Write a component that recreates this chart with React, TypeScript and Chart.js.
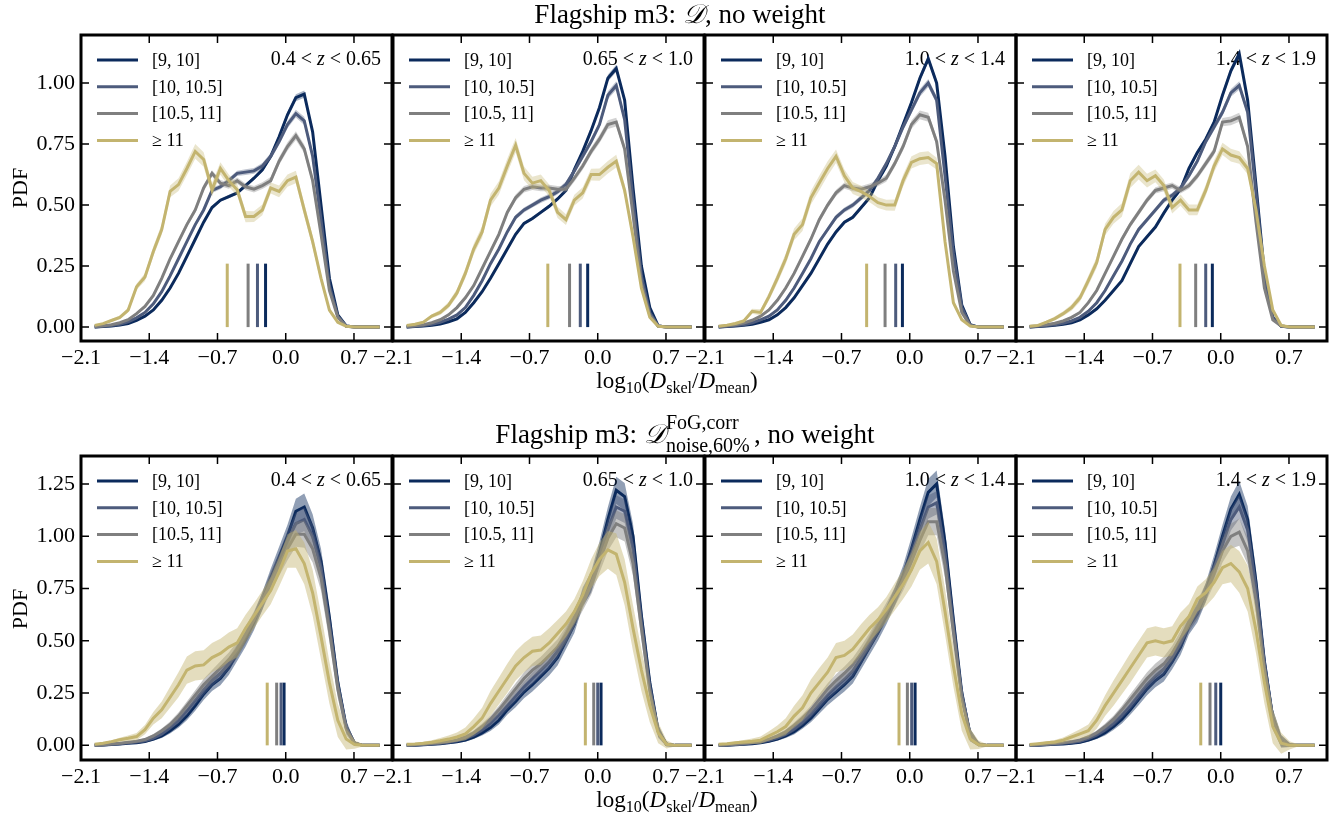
import React, { useEffect, useRef } from 'react';
import { Chart, registerables } from 'chart.js';

Chart.register(...registerables);

const SERIF = '"Liberation Serif", "Times New Roman", serif';

// bin centres of log10(D_skel / D_mean)
const xs = [-1.96, -1.874, -1.788, -1.702, -1.616, -1.53, -1.444, -1.358, -1.272, -1.186, -1.1, -1.014, -0.928, -0.842, -0.756, -0.67, -0.584, -0.498, -0.412, -0.326, -0.24, -0.154, -0.068, 0.018, 0.104, 0.19, 0.276, 0.362, 0.448, 0.534, 0.62, 0.706, 0.792, 0.878, 0.964];

const seriesLabels = ['[9, 10]', '[10, 10.5]', '[10.5, 11]', '\u2265 11'];
const seriesColors = ['#0b2a5c', '#4d5b7c', '#7f7f7f', '#c3b46f'];
const zLow = ['0.4', '0.65', '1.0', '1.4'];
const zHigh = ['0.65', '1.0', '1.4', '1.9'];
const xTicks = [-2.1, -1.4, -0.7, 0.0, 0.7];
const yTicksTop = [0, 0.25, 0.5, 0.75, 1.0];
const yTicksBottom = [0, 0.25, 0.5, 0.75, 1.0, 1.25];

// ---------- top row: D, no weight ----------
const t1Navy = [0,0.002,0.004,0.008,0.015,0.028,0.045,0.07,0.11,0.16,0.22,0.29,0.36,0.43,0.49,0.52,0.535,0.55,0.58,0.61,0.645,0.70,0.78,0.87,0.94,0.955,0.80,0.50,0.20,0.05,0.005,0,0,0,0];
const t1Slate = [0,0.003,0.006,0.012,0.022,0.038,0.06,0.095,0.145,0.21,0.28,0.35,0.42,0.48,0.56,0.575,0.60,0.63,0.635,0.64,0.66,0.70,0.76,0.83,0.875,0.845,0.70,0.44,0.17,0.045,0.004,0,0,0,0];
const t1Gray = [0.002,0.005,0.01,0.018,0.03,0.055,0.085,0.13,0.20,0.28,0.35,0.42,0.48,0.57,0.63,0.59,0.58,0.60,0.575,0.565,0.58,0.60,0.68,0.74,0.785,0.73,0.60,0.38,0.15,0.04,0.003,0,0,0,0];
const t1Gold = [0.007,0.014,0.027,0.04,0.07,0.165,0.205,0.31,0.40,0.556,0.584,0.65,0.72,0.687,0.563,0.65,0.60,0.563,0.453,0.453,0.48,0.57,0.556,0.60,0.615,0.48,0.35,0.20,0.07,0.02,0.003,0,0,0,0];

const t2Navy = [0,0.002,0.004,0.007,0.013,0.022,0.034,0.06,0.10,0.145,0.20,0.26,0.32,0.38,0.425,0.445,0.47,0.495,0.525,0.56,0.645,0.72,0.805,0.90,1.02,1.06,0.93,0.57,0.25,0.08,0.005,0,0,0,0];
const t2Slate = [0,0.003,0.006,0.012,0.02,0.033,0.05,0.08,0.13,0.19,0.26,0.32,0.39,0.45,0.48,0.50,0.52,0.535,0.555,0.585,0.64,0.70,0.76,0.83,0.95,0.99,0.85,0.52,0.21,0.06,0.004,0,0,0,0];
const t2Gray = [0.002,0.005,0.01,0.018,0.03,0.05,0.08,0.12,0.17,0.24,0.31,0.38,0.47,0.53,0.565,0.575,0.57,0.57,0.565,0.565,0.61,0.66,0.72,0.77,0.83,0.84,0.73,0.46,0.18,0.05,0.004,0,0,0,0];
const t2Gold = [0.007,0.012,0.02,0.045,0.06,0.09,0.14,0.22,0.32,0.39,0.52,0.57,0.66,0.745,0.63,0.59,0.60,0.56,0.47,0.44,0.52,0.55,0.625,0.625,0.655,0.68,0.56,0.37,0.16,0.04,0.003,0,0,0,0];

const t3Navy = [0,0.002,0.004,0.007,0.012,0.02,0.03,0.05,0.08,0.12,0.17,0.22,0.28,0.34,0.39,0.43,0.45,0.49,0.53,0.60,0.66,0.74,0.83,0.92,1.02,1.10,1.0,0.70,0.33,0.09,0.01,0,0,0,0];
const t3Slate = [0,0.003,0.006,0.01,0.018,0.03,0.045,0.07,0.11,0.16,0.22,0.28,0.35,0.40,0.45,0.48,0.50,0.53,0.56,0.61,0.67,0.74,0.82,0.89,0.96,1.0,0.93,0.62,0.30,0.08,0.008,0,0,0,0];
const t3Gray = [0.002,0.005,0.01,0.017,0.028,0.045,0.07,0.11,0.16,0.22,0.29,0.36,0.44,0.50,0.55,0.58,0.57,0.565,0.575,0.59,0.61,0.67,0.74,0.83,0.87,0.86,0.76,0.52,0.23,0.06,0.006,0,0,0,0];
const t3Gold = [0.003,0.008,0.015,0.025,0.065,0.06,0.125,0.20,0.28,0.38,0.42,0.53,0.59,0.65,0.70,0.62,0.57,0.555,0.535,0.51,0.50,0.50,0.60,0.675,0.69,0.695,0.67,0.35,0.10,0.03,0.004,0,0,0,0];

const t4Navy = [0,0.002,0.004,0.007,0.012,0.018,0.03,0.05,0.075,0.11,0.15,0.19,0.26,0.33,0.37,0.41,0.467,0.52,0.565,0.65,0.715,0.77,0.84,0.95,1.05,1.12,0.93,0.58,0.22,0.04,0.003,0,0,0,0];
const t4Slate = [0,0.003,0.006,0.01,0.016,0.025,0.04,0.065,0.10,0.15,0.21,0.27,0.34,0.40,0.44,0.48,0.52,0.54,0.57,0.62,0.68,0.76,0.82,0.88,0.96,0.99,0.88,0.55,0.21,0.04,0.004,0,0,0,0];
const t4Gray = [0.002,0.005,0.01,0.016,0.025,0.04,0.06,0.1,0.15,0.22,0.29,0.36,0.42,0.47,0.52,0.56,0.57,0.58,0.56,0.58,0.62,0.67,0.72,0.84,0.845,0.86,0.74,0.43,0.16,0.03,0.004,0,0,0,0];
const t4Gold = [0.003,0.007,0.02,0.035,0.055,0.08,0.12,0.19,0.265,0.40,0.45,0.48,0.60,0.635,0.60,0.62,0.58,0.49,0.52,0.48,0.48,0.56,0.66,0.73,0.705,0.695,0.65,0.48,0.25,0.07,0.007,0,0,0,0];

// ---------- bottom row: D^{FoG,corr}_{noise,60%}, no weight ----------
const b1Navy = [0,0.002,0.004,0.007,0.01,0.013,0.018,0.03,0.045,0.07,0.10,0.14,0.19,0.245,0.29,0.32,0.37,0.44,0.51,0.59,0.69,0.80,0.90,1.0,1.12,1.14,1.04,0.88,0.61,0.30,0.09,0.01,0,0,0];
const b1Slate = [0,0.002,0.005,0.008,0.012,0.016,0.022,0.035,0.055,0.085,0.12,0.165,0.215,0.265,0.31,0.345,0.39,0.45,0.52,0.60,0.69,0.79,0.88,0.98,1.06,1.08,1.0,0.85,0.58,0.29,0.085,0.01,0,0,0];
const b1Gray = [0.001,0.003,0.006,0.01,0.015,0.02,0.028,0.045,0.07,0.10,0.14,0.19,0.24,0.29,0.33,0.37,0.41,0.46,0.53,0.60,0.69,0.78,0.86,0.94,1.01,1.01,0.94,0.80,0.55,0.27,0.08,0.01,0,0,0];
const b1Gold = [0.005,0.01,0.018,0.027,0.034,0.042,0.075,0.13,0.17,0.23,0.29,0.36,0.38,0.385,0.42,0.44,0.47,0.49,0.56,0.62,0.68,0.74,0.83,0.93,0.94,0.87,0.73,0.52,0.30,0.12,0.03,0.004,0,0,0];

const b2Navy = [0,0.001,0.003,0.005,0.008,0.012,0.017,0.025,0.04,0.06,0.085,0.12,0.17,0.21,0.255,0.29,0.33,0.37,0.42,0.50,0.58,0.71,0.78,0.92,1.08,1.22,1.19,1.0,0.62,0.30,0.07,0.005,0,0,0];
const b2Slate = [0,0.002,0.004,0.007,0.01,0.015,0.022,0.032,0.05,0.075,0.105,0.145,0.19,0.235,0.28,0.32,0.36,0.40,0.45,0.52,0.60,0.70,0.78,0.90,1.03,1.14,1.12,0.94,0.59,0.28,0.07,0.005,0,0,0];
const b2Gray = [0.001,0.003,0.005,0.009,0.013,0.018,0.026,0.04,0.06,0.09,0.125,0.17,0.22,0.27,0.32,0.36,0.39,0.43,0.47,0.53,0.61,0.69,0.77,0.88,0.99,1.06,1.04,0.87,0.56,0.26,0.065,0.005,0,0,0];
const b2Gold = [0.005,0.007,0.01,0.015,0.022,0.03,0.04,0.055,0.09,0.13,0.20,0.26,0.32,0.38,0.42,0.45,0.456,0.49,0.535,0.58,0.64,0.72,0.82,0.89,0.935,0.915,0.78,0.56,0.36,0.19,0.06,0.005,0,0,0];

const b3Navy = [0,0.001,0.003,0.005,0.008,0.013,0.02,0.03,0.045,0.065,0.095,0.13,0.175,0.22,0.255,0.29,0.33,0.40,0.47,0.54,0.62,0.71,0.81,0.94,1.08,1.21,1.25,0.97,0.60,0.25,0.05,0.005,0,0,0];
const b3Slate = [0,0.002,0.004,0.007,0.011,0.016,0.024,0.036,0.054,0.078,0.11,0.15,0.195,0.24,0.28,0.315,0.355,0.42,0.49,0.56,0.63,0.71,0.80,0.91,1.03,1.14,1.16,0.92,0.57,0.24,0.05,0.005,0,0,0];
const b3Gray = [0.001,0.003,0.005,0.009,0.014,0.02,0.03,0.045,0.065,0.095,0.13,0.17,0.22,0.27,0.31,0.345,0.385,0.44,0.50,0.57,0.64,0.71,0.79,0.88,0.98,1.07,1.07,0.86,0.54,0.23,0.05,0.005,0,0,0];
const b3Gold = [0.005,0.008,0.012,0.016,0.02,0.025,0.045,0.065,0.09,0.14,0.18,0.25,0.30,0.35,0.42,0.43,0.46,0.51,0.56,0.60,0.65,0.71,0.77,0.84,0.93,0.97,0.88,0.64,0.38,0.15,0.03,0.003,0,0,0];

const b4Navy = [0,0.001,0.003,0.005,0.007,0.01,0.015,0.025,0.04,0.06,0.09,0.125,0.17,0.22,0.27,0.31,0.34,0.40,0.47,0.57,0.63,0.73,0.86,1.0,1.13,1.2,1.08,0.78,0.40,0.13,0.02,0.002,0,0,0];
const b4Slate = [0,0.002,0.004,0.007,0.01,0.014,0.02,0.032,0.05,0.075,0.105,0.145,0.19,0.24,0.29,0.33,0.365,0.42,0.49,0.58,0.64,0.73,0.84,0.96,1.08,1.14,1.03,0.75,0.39,0.13,0.02,0.002,0,0,0];
const b4Gray = [0.001,0.003,0.005,0.009,0.013,0.018,0.026,0.04,0.06,0.09,0.125,0.17,0.22,0.27,0.32,0.36,0.39,0.44,0.51,0.59,0.65,0.73,0.82,0.93,1.0,1.02,0.93,0.69,0.37,0.12,0.02,0.002,0,0,0];
const b4Gold = [0.004,0.008,0.012,0.016,0.025,0.04,0.055,0.07,0.12,0.19,0.25,0.31,0.37,0.43,0.49,0.50,0.49,0.50,0.57,0.616,0.70,0.73,0.78,0.85,0.87,0.83,0.75,0.55,0.30,0.09,0.01,0,0,0,0];

// band half-widths (bootstrap scatter), per row and mass bin
const topErrNavy = [0,0,0.001,0.001,0.002,0.002,0.003,0.003,0.004,0.004,0.005,0.005,0.005,0.006,0.006,0.006,0.007,0.007,0.008,0.008,0.009,0.01,0.011,0.012,0.014,0.015,0.014,0.012,0.009,0.005,0.002,0,0,0,0];
const topErrSlate = [0,0.001,0.001,0.002,0.003,0.003,0.004,0.005,0.006,0.007,0.008,0.008,0.009,0.01,0.01,0.01,0.011,0.011,0.012,0.012,0.012,0.013,0.014,0.015,0.016,0.017,0.016,0.013,0.01,0.006,0.002,0,0,0,0];
const topErrGray = [0.001,0.001,0.002,0.003,0.004,0.005,0.006,0.007,0.008,0.009,0.01,0.011,0.012,0.013,0.013,0.013,0.013,0.013,0.013,0.013,0.014,0.015,0.016,0.017,0.018,0.018,0.017,0.014,0.01,0.006,0.002,0,0,0,0];
const topErrGold = [0.003,0.004,0.006,0.008,0.01,0.013,0.016,0.02,0.022,0.024,0.026,0.028,0.03,0.03,0.028,0.026,0.025,0.024,0.023,0.022,0.022,0.023,0.024,0.025,0.026,0.026,0.024,0.018,0.01,0.005,0.002,0,0,0,0];
const botErrNavy = [0,0.001,0.002,0.003,0.004,0.005,0.006,0.008,0.01,0.013,0.016,0.02,0.024,0.028,0.03,0.032,0.034,0.036,0.038,0.04,0.042,0.045,0.05,0.055,0.06,0.065,0.065,0.06,0.055,0.045,0.03,0.01,0.003,0,0];
const botErrSlate = [0,0.001,0.002,0.003,0.004,0.005,0.006,0.008,0.01,0.012,0.015,0.018,0.021,0.024,0.026,0.028,0.03,0.032,0.034,0.036,0.038,0.04,0.044,0.048,0.052,0.056,0.056,0.052,0.048,0.04,0.026,0.009,0.003,0,0];
const botErrGray = [0.001,0.001,0.002,0.003,0.004,0.005,0.007,0.009,0.011,0.014,0.017,0.02,0.024,0.027,0.03,0.032,0.034,0.036,0.038,0.04,0.042,0.045,0.05,0.055,0.06,0.065,0.065,0.06,0.055,0.045,0.03,0.01,0.003,0,0];
const botErrGold = [0.003,0.005,0.007,0.01,0.013,0.017,0.022,0.03,0.04,0.05,0.06,0.065,0.07,0.07,0.07,0.07,0.07,0.07,0.065,0.06,0.06,0.065,0.07,0.08,0.09,0.1,0.11,0.11,0.1,0.08,0.05,0.02,0.005,0,0];

// medians (navy, slate, gray, gold) per panel
const topMedians = [[-0.207, -0.29, -0.386, -0.60], [-0.103, -0.179, -0.289, -0.512], [-0.075, -0.144, -0.253, -0.442], [-0.086, -0.154, -0.257, -0.418]];
const botMedians = [[-0.017, -0.048, -0.093, -0.19], [0.034, 0.0, -0.041, -0.127], [0.055, 0.02, -0.024, -0.11], [0.0, -0.051, -0.11, -0.205]];
const medianTop = [0.26, 0.30];

const topPanels = [[t1Navy, t1Slate, t1Gray, t1Gold], [t2Navy, t2Slate, t2Gray, t2Gold], [t3Navy, t3Slate, t3Gray, t3Gold], [t4Navy, t4Slate, t4Gray, t4Gold]];
const botPanels = [[b1Navy, b1Slate, b1Gray, b1Gold], [b2Navy, b2Slate, b2Gray, b2Gold], [b3Navy, b3Slate, b3Gray, b3Gold], [b4Navy, b4Slate, b4Gray, b4Gold]];
const topErrs = [topErrNavy, topErrSlate, topErrGray, topErrGold];
const botErrs = [botErrNavy, botErrSlate, botErrGray, botErrGold];

// layout
const PANEL_LEFT = [81, 393, 705, 1016];
const PANEL_W = 311;
const ROW_TOP = [35, 456];
const ROW_H = [306, 304];
const Y_RANGE = [[-0.057, 1.197], [-0.07, 1.384]];
const X_MIN = -2.1;
const X_MAX = 1.09;
const PAD_L = 70, PAD_R = 30, PAD_T = 20, PAD_B = 45;

function rgba(hex: string, a: number) {
  const n = parseInt(hex.slice(1), 16);
  return `rgba(${(n >> 16) & 255},${(n >> 8) & 255},${n & 255},${a})`;
}

function Panel({ row, col }: { row: number; col: number }) {
  const ref = useRef<HTMLCanvasElement>(null);
  const W = PANEL_W + PAD_L + PAD_R;
  const H = ROW_H[row] + PAD_T + PAD_B;
  useEffect(() => {
    if (!ref.current) return;
    const values = row === 0 ? topPanels[col] : botPanels[col];
    const errs = row === 0 ? topErrs : botErrs;
    const medians = row === 0 ? topMedians[col] : botMedians[col];
    const bandAlpha = row === 0 ? 0.35 : 0.45;
    const datasets: any[] = [];
    values.forEach((vals, s) => {
      const c = seriesColors[s];
      const base = 100 - s * 4;
      datasets.push({
        data: xs.map((x, i) => ({ x, y: vals[i] - errs[s][i] })),
        borderColor: 'rgba(0,0,0,0)', borderWidth: 1, pointRadius: 0, fill: false, order: base,
      });
      datasets.push({
        data: xs.map((x, i) => ({ x, y: vals[i] + errs[s][i] })),
        borderColor: 'rgba(0,0,0,0)', borderWidth: 1, pointRadius: 0, fill: '-1',
        backgroundColor: rgba(c, bandAlpha), order: base - 1,
      });
      datasets.push({
        label: seriesLabels[s],
        data: xs.map((x, i) => ({ x, y: vals[i] })),
        borderColor: c, borderWidth: 3, pointRadius: 0, fill: false, order: base - 2,
      });
    });
    medians.forEach((m, s) => {
      datasets.push({
        data: [{ x: m, y: 0 }, { x: m, y: medianTop[row] }],
        borderColor: seriesColors[s], borderWidth: 3, pointRadius: 0, fill: false, order: 10 - s,
      });
    });

    const annot = {
      id: 'annot',
      beforeDatasetsDraw(chart: any) {
        const { ctx, chartArea } = chart;
        ctx.save();
        ctx.fillStyle = '#000';
        ctx.textBaseline = 'middle';
        const fN = `20px ${SERIF}`;
        const fI = `italic 20px ${SERIF}`;
        const p1 = `${zLow[col]} < `, p2 = 'z', p3 = ` < ${zHigh[col]}`;
        ctx.font = fN; const w1 = ctx.measureText(p1).width; const w3 = ctx.measureText(p3).width;
        ctx.font = fI; const w2 = ctx.measureText(p2).width;
        let x = chartArea.right - 11 - (w1 + w2 + w3);
        const y = chartArea.top + 25;
        ctx.font = fN; ctx.fillText(p1, x, y); x += w1;
        ctx.font = fI; ctx.fillText(p2, x, y); x += w2;
        ctx.font = fN; ctx.fillText(p3, x, y);
        ctx.restore();
      },
    };
    const frame = {
      id: 'frame',
      afterDatasetsDraw(chart: any) {
        const { ctx, chartArea } = chart;
        const { left, right, top, bottom } = chartArea;
        const xs_ = chart.scales.x, ys_ = chart.scales.y;
        ctx.save();
        ctx.strokeStyle = '#000';
        ctx.lineWidth = 1.5;
        ctx.beginPath();
        xs_.ticks.forEach((t: any) => {
          const px = xs_.getPixelForValue(t.value);
          ctx.moveTo(px, bottom); ctx.lineTo(px, bottom - 8);
          ctx.moveTo(px, top); ctx.lineTo(px, top + 8);
        });
        ys_.ticks.forEach((t: any) => {
          const py = ys_.getPixelForValue(t.value);
          ctx.moveTo(left, py); ctx.lineTo(left + 8, py);
          ctx.moveTo(right, py); ctx.lineTo(right - 8, py);
        });
        ctx.stroke();
        ctx.lineWidth = 3;
        ctx.strokeRect(left, top, right - left, bottom - top);
        // legend
        ctx.font = `18px ${SERIF}`;
        ctx.textBaseline = 'middle';
        ctx.fillStyle = '#000';
        seriesLabels.forEach((lab, s) => {
          const y = top + 25 + s * 26.8;
          ctx.strokeStyle = seriesColors[s];
          ctx.lineWidth = 3;
          ctx.beginPath();
          ctx.moveTo(left + 16, y); ctx.lineTo(left + 57, y);
          ctx.stroke();
          ctx.fillText(lab, left + 71, y + 1);
        });
        ctx.restore();
      },
    };

    const yt = row === 0 ? yTicksTop : yTicksBottom;
    const chart = new Chart(ref.current, {
      type: 'line',
      data: { datasets },
      plugins: [annot, frame],
      options: {
        animation: false,
        responsive: false,
        events: [],
        layout: { padding: { left: 0, right: PAD_R, top: PAD_T, bottom: 0 } },
        plugins: { legend: { display: false }, tooltip: { enabled: false }, title: { display: false } },
        elements: { line: { tension: 0 } },
        scales: {
          x: {
            type: 'linear', min: X_MIN, max: X_MAX,
            grid: { display: false, drawTicks: false }, border: { display: false },
            afterBuildTicks: (s: any) => { s.ticks = xTicks.map((v) => ({ value: v })); },
            afterFit: (s: any) => { s.height = PAD_B; s.paddingLeft = 0; s.paddingRight = 0; },
            ticks: {
              autoSkip: false, maxRotation: 0, padding: 4, color: '#000',
              font: { family: SERIF, size: 22 },
              callback: (v: any) => Number(v).toFixed(1).replace('-', '\u2212'),
            },
          },
          y: {
            type: 'linear', min: Y_RANGE[row][0], max: Y_RANGE[row][1],
            grid: { display: false, drawTicks: false }, border: { display: false },
            afterBuildTicks: (s: any) => { s.ticks = yt.map((v) => ({ value: v })); },
            afterFit: (s: any) => { s.width = PAD_L; s.paddingTop = 0; s.paddingBottom = 0; },
            ticks: {
              display: col === 0, padding: 6, color: '#000',
              font: { family: SERIF, size: 22 },
              callback: (v: any) => Number(v).toFixed(2),
            },
          },
        },
      } as any,
    });
    return () => chart.destroy();
  }, [row, col]);
  return (
    <canvas
      ref={ref}
      width={W}
      height={H}
      style={{ position: 'absolute', left: PANEL_LEFT[col] - PAD_L, top: ROW_TOP[row] - PAD_T, width: W, height: H }}
    />
  );
}

const sub: React.CSSProperties = { fontSize: '0.7em', verticalAlign: '-0.3em' };

function XLabel({ top }: { top: number }) {
  return (
    <div style={{ position: 'absolute', left: 377, width: 600, top, textAlign: 'center', fontFamily: SERIF, fontSize: 23, lineHeight: '23px', whiteSpace: 'nowrap' }}>
      log<span style={sub}>10</span>(<i>D</i><span style={sub}>skel</span>/<i>D</i><span style={sub}>mean</span>)
    </div>
  );
}

function YLabel({ cy }: { cy: number }) {
  return (
    <div style={{ position: 'absolute', left: 19.5 - 50, top: cy - 15, width: 100, height: 30, lineHeight: '30px', textAlign: 'center', fontFamily: SERIF, fontSize: 22, transform: 'rotate(-90deg)' }}>
      PDF
    </div>
  );
}

export default function App() {
  return (
    <div style={{ position: 'absolute', left: 0, top: 0, width: 1342, height: 818, background: '#fff', overflow: 'hidden', fontFamily: SERIF, color: '#000' }}>
      {[0, 1].map((r) => [0, 1, 2, 3].map((c) => <Panel key={`${r}-${c}`} row={r} col={c} />))}
      <div style={{ position: 'absolute', left: 380, width: 600, top: 1, textAlign: 'center', fontSize: 27, lineHeight: '27px', whiteSpace: 'nowrap' }}>
        Flagship m3: <i>{'\u{1D49F}'}</i>, no weight
      </div>
      <div style={{ position: 'absolute', left: 385, width: 600, top: 421, textAlign: 'center', fontSize: 27, lineHeight: '27px', whiteSpace: 'nowrap' }}>
        Flagship m3: <i>{'\u{1D49F}'}</i>
        <span style={{ position: 'relative', display: 'inline-block', width: 88, height: 0, fontSize: 20, lineHeight: '20px' }}>
          <span style={{ position: 'absolute', left: 0, bottom: 11, whiteSpace: 'nowrap' }}>FoG,corr</span>
          <span style={{ position: 'absolute', left: 0, top: -8, whiteSpace: 'nowrap' }}>noise,60%</span>
        </span>
        , no weight
      </div>
      <XLabel top={369} />
      <XLabel top={788} />
      <YLabel cy={188} />
      <YLabel cy={609} />
    </div>
  );
}
